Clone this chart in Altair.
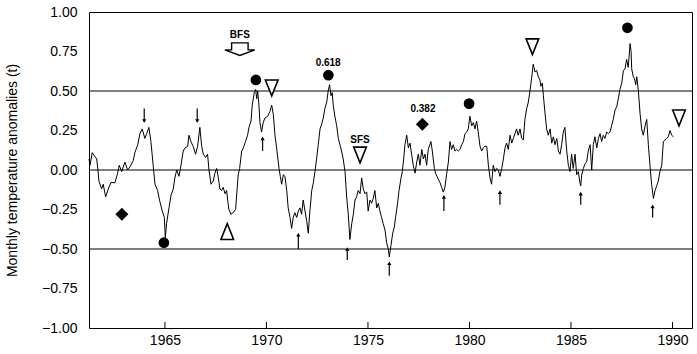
import altair as alt
import pandas as pd

# ---------------- data ----------------
years = [
    1961.26, 1961.31, 1961.42, 1961.52, 1961.64, 1961.70, 1961.75, 1961.88, 1961.96, 1962.08,
    1962.21, 1962.34, 1962.54, 1962.67, 1962.75, 1962.87, 1963.03, 1963.16, 1963.28, 1963.44,
    1963.52, 1963.66, 1963.77, 1963.88, 1964.01, 1964.10, 1964.21, 1964.31, 1964.42, 1964.51,
    1964.64, 1964.75, 1964.87, 1964.97, 1965.02, 1965.08, 1965.20, 1965.30, 1965.41, 1965.49,
    1965.58, 1965.69, 1965.79, 1965.90, 1965.99, 1966.12, 1966.18, 1966.28, 1966.39, 1966.51,
    1966.61, 1966.72, 1966.81, 1966.89, 1967.00, 1967.10, 1967.17, 1967.27, 1967.38, 1967.46,
    1967.55, 1967.63, 1967.71, 1967.79, 1967.87, 1967.96, 1968.04, 1968.09, 1968.15, 1968.25,
    1968.36, 1968.48, 1968.55, 1968.61, 1968.68, 1968.78, 1968.86, 1968.97, 1969.07, 1969.14,
    1969.24, 1969.30, 1969.40, 1969.47, 1969.52, 1969.57, 1969.63, 1969.68, 1969.76, 1969.84,
    1969.93, 1970.06, 1970.17, 1970.26, 1970.34, 1970.42, 1970.50, 1970.62, 1970.68, 1970.75,
    1970.83, 1970.91, 1971.00, 1971.07, 1971.16, 1971.24, 1971.32, 1971.40, 1971.49, 1971.57,
    1971.65, 1971.73, 1971.81, 1971.90, 1971.98, 1972.06, 1972.14, 1972.23, 1972.31, 1972.39,
    1972.47, 1972.55, 1972.64, 1972.72, 1972.80, 1972.88, 1972.97, 1973.04, 1973.11, 1973.18,
    1973.24, 1973.29, 1973.37, 1973.46, 1973.54, 1973.62, 1973.70, 1973.78, 1973.87, 1973.95,
    1974.03, 1974.11, 1974.20, 1974.28, 1974.36, 1974.44, 1974.52, 1974.61, 1974.69, 1974.77,
    1974.85, 1974.94, 1975.01, 1975.10, 1975.18, 1975.26, 1975.34, 1975.43, 1975.51, 1975.59,
    1975.67, 1975.75, 1975.84, 1975.92, 1976.00, 1976.05, 1976.13, 1976.22, 1976.30, 1976.36,
    1976.46, 1976.53, 1976.63, 1976.69, 1976.76, 1976.82, 1976.91, 1976.99, 1977.07, 1977.15,
    1977.23, 1977.32, 1977.40, 1977.48, 1977.56, 1977.65, 1977.73, 1977.81, 1977.89, 1977.97,
    1978.10, 1978.17, 1978.27, 1978.33, 1978.43, 1978.55, 1978.63, 1978.71, 1978.79, 1978.87,
    1978.96, 1979.04, 1979.12, 1979.20, 1979.29, 1979.37, 1979.45, 1979.53, 1979.62, 1979.70,
    1979.78, 1979.86, 1979.94, 1980.02, 1980.11, 1980.19, 1980.27, 1980.35, 1980.43, 1980.52,
    1980.60, 1980.68, 1980.76, 1980.85, 1980.93, 1981.01, 1981.09, 1981.17, 1981.26, 1981.34,
    1981.42, 1981.50, 1981.59, 1981.67, 1981.75, 1981.83, 1981.91, 1982.00, 1982.08, 1982.16,
    1982.24, 1982.32, 1982.40, 1982.49, 1982.57, 1982.65, 1982.73, 1982.82, 1982.90, 1982.98,
    1983.06, 1983.14, 1983.23, 1983.31, 1983.39, 1983.47, 1983.52, 1983.59, 1983.64, 1983.72,
    1983.80, 1983.88, 1983.97, 1984.05, 1984.13, 1984.21, 1984.30, 1984.38, 1984.46, 1984.54,
    1984.62, 1984.70, 1984.79, 1984.87, 1984.95, 1985.03, 1985.11, 1985.20, 1985.28, 1985.36,
    1985.44, 1985.48, 1985.53, 1985.61, 1985.69, 1985.77, 1985.85, 1985.94, 1986.02, 1986.10,
    1986.18, 1986.27, 1986.35, 1986.43, 1986.51, 1986.59, 1986.67, 1986.76, 1986.84, 1986.92,
    1987.00, 1987.08, 1987.17, 1987.25, 1987.33, 1987.41, 1987.50, 1987.58, 1987.66, 1987.74,
    1987.82, 1987.91, 1987.96, 1987.99, 1988.07, 1988.12, 1988.19, 1988.24, 1988.32, 1988.40,
    1988.48, 1988.56, 1988.65, 1988.73, 1988.81, 1988.89, 1988.97, 1989.06, 1989.14, 1989.22,
    1989.30, 1989.38, 1989.47, 1989.55, 1989.63, 1989.71, 1989.79, 1989.88, 1989.96, 1990.04,
]
anomaly = [
    0.07, 0.03, 0.11, 0.09, 0.07, 0.00, -0.07, -0.12, -0.09, -0.17,
    -0.12, -0.08, -0.08, -0.02, 0.03, -0.01, 0.05, 0.00, 0.02, 0.06,
    0.11, 0.16, 0.23, 0.26, 0.20, 0.23, 0.27, 0.18, 0.03, -0.09,
    -0.13, -0.20, -0.26, -0.30, -0.43, -0.34, -0.24, -0.16, -0.12, -0.05,
    0.00, -0.04, 0.03, 0.12, 0.14, 0.15, 0.22, 0.18, 0.15, 0.10,
    0.15, 0.27, 0.15, 0.10, 0.08, 0.10, 0.00, -0.09, -0.07, -0.02,
    0.01, -0.05, -0.12, -0.13, -0.11, -0.15, -0.13, -0.19, -0.25, -0.28,
    -0.27, -0.25, -0.13, -0.03, 0.01, 0.12, 0.14, 0.18, 0.22, 0.27,
    0.31, 0.41, 0.49, 0.51, 0.45, 0.50, 0.41, 0.30, 0.24, 0.30,
    0.33, 0.34, 0.37, 0.41, 0.35, 0.22, 0.14, 0.01, -0.04, -0.09,
    -0.03, -0.04, -0.13, -0.24, -0.30, -0.37, -0.30, -0.27, -0.30, -0.26,
    -0.24, -0.28, -0.19, -0.26, -0.32, -0.40, -0.26, -0.13, -0.08, -0.01,
    0.07, 0.16, 0.26, 0.29, 0.33, 0.39, 0.43, 0.50, 0.54, 0.47,
    0.49, 0.41, 0.34, 0.28, 0.20, 0.16, 0.12, 0.07, -0.01, -0.17,
    -0.28, -0.44, -0.34, -0.28, -0.19, -0.17, -0.13, -0.15, -0.05, -0.12,
    -0.15, -0.14, -0.26, -0.19, -0.21, -0.18, -0.13, -0.24, -0.21, -0.26,
    -0.30, -0.34, -0.38, -0.46, -0.50, -0.55, -0.48, -0.40, -0.36, -0.30,
    -0.21, -0.13, -0.05, -0.01, 0.07, 0.16, 0.22, 0.14, 0.17, 0.10,
    0.03, -0.02, 0.05, 0.10, 0.03, 0.13, 0.07, 0.10, 0.03, 0.13,
    0.18, 0.12, 0.01, -0.02, -0.05, -0.08, -0.11, -0.14, -0.11, -0.03,
    0.05, 0.18, 0.13, 0.16, 0.12, 0.13, 0.12, 0.13, 0.16, 0.18,
    0.23, 0.24, 0.26, 0.34, 0.28, 0.30, 0.26, 0.31, 0.24, 0.15,
    0.12, 0.14, 0.15, 0.15, 0.03, -0.05, -0.09, 0.03, -0.01, 0.01,
    0.00, -0.04, 0.01, 0.07, 0.14, 0.17, 0.13, 0.22, 0.17, 0.20,
    0.23, 0.26, 0.22, 0.26, 0.20, 0.19, 0.32, 0.39, 0.43, 0.50,
    0.58, 0.67, 0.62, 0.63, 0.59, 0.57, 0.53, 0.55, 0.47, 0.36,
    0.26, 0.22, 0.26, 0.17, 0.21, 0.16, 0.20, 0.12, 0.10, 0.16,
    0.24, 0.27, 0.12, 0.03, -0.01, 0.10, 0.01, 0.10, -0.03, -0.01,
    -0.08, -0.10, -0.03, 0.01, 0.04, 0.05, 0.12, 0.16, 0.00, 0.16,
    0.21, 0.14, 0.20, 0.23, 0.18, 0.22, 0.20, 0.24, 0.23, 0.24,
    0.28, 0.32, 0.38, 0.40, 0.45, 0.51, 0.55, 0.63, 0.64, 0.70,
    0.65, 0.80, 0.75, 0.64, 0.59, 0.58, 0.54, 0.59, 0.50, 0.36,
    0.26, 0.22, 0.28, 0.32, 0.16, 0.03, -0.09, -0.18, -0.13, -0.10,
    -0.07, -0.01, 0.03, 0.18, 0.19, 0.20, 0.21, 0.25, 0.22, 0.21,
]

ref_levels = [0.5, 0.0, -0.5]
x_ticks = [1965, 1970, 1975, 1980, 1985, 1990]
y_ticks = [-1.0, -0.75, -0.5, -0.25, 0.0, 0.25, 0.5, 0.75, 1.0]

circle_years = [1964.95, 1969.48, 1973.05, 1979.98, 1987.78]
circle_vals = [-0.46, 0.57, 0.60, 0.42, 0.90]

tri_down_years = [1970.26, 1974.61, 1983.10, 1990.32]
tri_down_vals = [0.52, 0.095, 0.78, 0.33]

tri_up_years = [1968.07]
tri_up_vals = [-0.39]

diamond_years = [1962.88, 1977.68]
diamond_vals = [-0.28, 0.29]

bfs_years = [1968.69]
bfs_vals = [0.765]

label_texts = ["BFS", "0.618", "SFS", "0.382"]
label_years = [1968.69, 1973.04, 1974.61, 1977.71]
label_vals = [0.855, 0.675, 0.19, 0.385]

arrow_down_years = [1963.98, 1966.59]
arrow_down_tail = [0.39, 0.39]
arrow_down_head = [0.31, 0.31]

arrow_up_years = [1969.81, 1971.57, 1973.98, 1976.05, 1978.74, 1981.50, 1985.48, 1989.02]
arrow_up_tail = [0.12, -0.50, -0.57, -0.67, -0.26, -0.22, -0.22, -0.30]
arrow_up_head = [0.20, -0.41, -0.50, -0.59, -0.17, -0.14, -0.15, -0.23]

# ---------------- tables ----------------
series = pd.DataFrame({"year": years, "v": anomaly})
refs = pd.DataFrame({"v": ref_levels})
xt = pd.DataFrame({"year": x_ticks})
circles = pd.DataFrame({"year": circle_years, "v": circle_vals})
tdown = pd.DataFrame({"year": tri_down_years, "v": tri_down_vals})
tup = pd.DataFrame({"year": tri_up_years, "v": tri_up_vals})
diamonds = pd.DataFrame({"year": diamond_years, "v": diamond_vals})
bfs = pd.DataFrame({"year": bfs_years, "v": bfs_vals})
labels = pd.DataFrame({"year": label_years, "v": label_vals, "t": label_texts})
adown = pd.DataFrame({"year": arrow_down_years, "v": arrow_down_tail, "head": arrow_down_head})
aup = pd.DataFrame({"year": arrow_up_years, "v": arrow_up_tail, "head": arrow_up_head})

FONT = "Liberation Sans"
xscale = alt.Scale(domain=[1961.26, 1990.96], nice=False, zero=False)
yscale = alt.Scale(domain=[-1, 1], nice=False, zero=False)

x_axis = alt.Axis(values=x_ticks, format="d", title=None, grid=False, ticks=False,
                  domain=False, labelFontSize=14, labelFont=FONT, labelColor="black",
                  labelPadding=5, labelFlush=False)
y_axis = alt.Axis(values=y_ticks, format=".2f", grid=False, ticks=False, domain=False,
                  labelFontSize=14, labelFont=FONT, labelColor="black", labelPadding=12,
                  title="Monthly temperature anomalies (t)", titleFont=FONT,
                  titleFontSize=14, titleFontWeight="normal", titleColor="black",
                  titleX=-77, titleY=158, titleAlign="center", titleBaseline="middle",
                  titleAngle=270)


def X():
    return alt.X("year:Q", scale=xscale, axis=x_axis, title=None)


def Y(field="v"):
    return alt.Y(f"{field}:Q", scale=yscale, axis=y_axis,
                 title="Monthly temperature anomalies (t)")


line = alt.Chart(series).mark_line(color="black", strokeWidth=1).encode(x=X(), y=Y())

ref_rules = alt.Chart(refs).mark_rule(color="black", strokeWidth=1).encode(y=Y())

x_inner_ticks = alt.Chart(xt).mark_rule(color="black", strokeWidth=1).encode(
    x=X(), y=alt.value(316), y2=alt.value(310))

circ = alt.Chart(circles).mark_point(shape="circle", filled=True, color="black", size=115,
                                     opacity=1).encode(x=X(), y=Y())

tri_d = alt.Chart(tdown).mark_point(
    shape="M -0.8 -1 L 0.8 -1 L 0 1 Z", filled=True, fill="white", stroke="black",
    strokeWidth=1.6, size=250, opacity=1).encode(x=X(), y=Y())

tri_u = alt.Chart(tup).mark_point(
    shape="M -0.8 1 L 0.8 1 L 0 -1 Z", filled=True, fill="white", stroke="black",
    strokeWidth=1.6, size=250, opacity=1).encode(x=X(), y=Y())

diam = alt.Chart(diamonds).mark_point(shape="diamond", filled=True, color="black", size=170,
                                      opacity=1).encode(x=X(), y=Y())

bfs_arrow = alt.Chart(bfs).mark_point(
    shape="M -0.55 -0.42 L 0.55 -0.42 L 0.55 0.05 L 1 0.05 L 0 0.42 L -1 0.05 L -0.55 0.05 Z",
    filled=True, fill="white", stroke="black", strokeWidth=1.4, size=900, opacity=1).encode(
    x=X(), y=Y())

txt = alt.Chart(labels).mark_text(font=FONT, fontSize=10, fontWeight="bold", color="black").encode(
    x=X(), y=Y(), text="t:N")

ad_shaft = alt.Chart(adown).mark_rule(color="black", strokeWidth=1.2).encode(
    x=X(), y=Y(), y2="head:Q")
ad_head = alt.Chart(adown).mark_point(shape="triangle-down", filled=True, color="black", size=18,
                                      opacity=1).encode(x=X(), y=Y("head"))
au_shaft = alt.Chart(aup).mark_rule(color="black", strokeWidth=1.2).encode(
    x=X(), y=Y(), y2="head:Q")
au_head = alt.Chart(aup).mark_point(shape="triangle-up", filled=True, color="black", size=18,
                                    opacity=1).encode(x=X(), y=Y("head"))

chart = alt.layer(
    ref_rules, x_inner_ticks, line, ad_shaft, ad_head, au_shaft, au_head,
    circ, tri_d, tri_u, diam, bfs_arrow, txt,
).properties(
    width=603, height=316,
    autosize=alt.AutoSizeParams(type="none"),
    padding={"left": 89, "top": 12, "right": 5, "bottom": 26},
    background="white",
).configure_view(stroke="black", strokeWidth=1)

chart.save("out.html", embed_options={"renderer": "svg", "actions": False})
